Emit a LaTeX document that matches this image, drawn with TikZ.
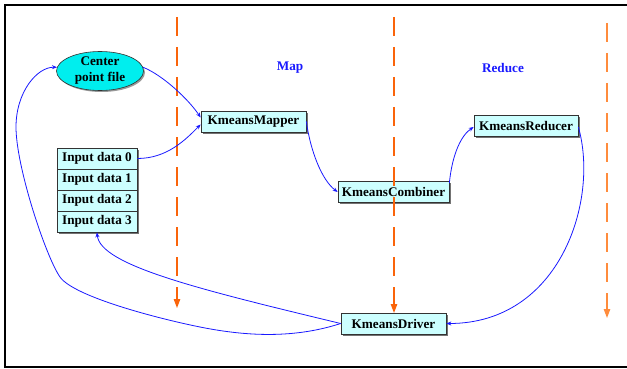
\documentclass[tikz,border=0pt]{standalone}
\usepackage{fontspec}
\setmainfont{Liberation Serif}
\usetikzlibrary{shapes.geometric,shadows,arrows.meta}
\definecolor{boxfill}{RGB}{204,255,255}
\definecolor{ellfill}{RGB}{0,238,238}
\definecolor{edgeblue}{RGB}{25,25,255}
\definecolor{dashor}{RGB}{250,100,10}
\definecolor{dashorlight}{RGB}{255,140,60}
\definecolor{labblue}{RGB}{25,25,255}
\begin{document}
\begin{tikzpicture}[x=1pt,y=-1pt,
  txt/.style={font=\fontsize{13.2}{16}\selectfont\bfseries},
  box/.style={txt,draw=black!80,fill=boxfill,line width=0.7pt,minimum height=21pt,inner sep=0pt,
    drop shadow={shadow xshift=1.5pt,shadow yshift=-1.5pt,fill=black!55,opacity=1}},
  ell/.style={txt,ellipse,draw=black!80,fill=ellfill,line width=0.6pt,minimum width=87pt,minimum height=39pt,inner sep=0pt,align=center,
    drop shadow={shadow xshift=1.5pt,shadow yshift=-1.5pt,fill=black!40,opacity=1}},
  lab/.style={txt,text=labblue},
  edge/.style={draw=edgeblue,line width=0.8pt,-{Stealth[length=5pt,width=4pt]}},
  dashline/.style={line width=1.2pt,dash pattern=on 19pt off 11pt,-{Triangle[length=9pt,width=6.5pt]}}
]
\useasboundingbox (0,0) rectangle (627,369);
% frame
\draw[line width=1.6pt] (627,5) -- (5,5) -- (5,367) -- (627,367);

% nodes
\node[ell] (cpf) at (100,71) {Center\\point file};
\node[box,minimum width=105pt] (map) at (253.5,121.5) {KmeansMapper};
\node[box,minimum width=80pt] (in0) at (97,158.5) {Input data 0};
\node[box,minimum width=80pt] (in1) at (97,179.5) {Input data 1};
\node[box,minimum width=80pt] (in2) at (97,200.5) {Input data 2};
\node[box,minimum width=80pt] (in3) at (97,221.5) {Input data 3};
\node[box,minimum width=111pt] (comb) at (393.5,192) {KmeansCombiner};
\node[box,minimum width=104pt] (red) at (526,126) {KmeansReducer};
\node[box,minimum width=105pt] (drv) at (393.5,323.5) {KmeansDriver};
\node[lab] (lmap) at (290,68) {Map};
\node[lab] (lred) at (503,68) {Reduce};

% dashed phase separators
\coordinate (d1s) at (177,17);
\coordinate (d1e) at (177,308);
\coordinate (d2s) at (394,17);
\coordinate (d2e) at (394,313);
\coordinate (d3s) at (607,23);
\coordinate (d3e) at (607,318);
\draw[dashline,color=dashor] (d1s) -- (d1e);
\draw[dashline,color=dashor] (d2s) -- (d2e);
\draw[dashline,color=dashorlight] (d3s) -- (d3e);

% connectors
\coordinate (w1) at (200,327);
\coordinate (w2) at (60,277);
\coordinate (w3) at (16,127);
\draw[edge] (cpf.5) .. controls +(20,8) and +(-12,-18) .. ([yshift=4pt]map.west);
\draw[edge] (in0.east) .. controls +(30,0) and +(-15,15) .. ([yshift=-3pt]map.west);
\draw[edge] (map.east) .. controls +(4,29) and +(-16,-12) .. (comb.west);
\draw[edge] ([yshift=9pt]comb.east) .. controls +(3,-30) and +(-12,8) .. ([yshift=-1pt]red.west);
\draw[edge] ([yshift=-1pt]red.east) .. controls +(21,73) and +(114,0) .. (drv.east);
\draw[edge] (drv.west) .. controls +(-141,-34) and +(3,33) .. (in3.south);
\draw[edge] (drv.west) .. controls (290,340) and (240,335) .. (w1)
  .. controls (160,319) and (74,297) .. (w2)
  .. controls (46,257) and (16,167) .. (w3)
  .. controls (16,92) and (37,67) .. (cpf.175);
\end{tikzpicture}
\end{document}
